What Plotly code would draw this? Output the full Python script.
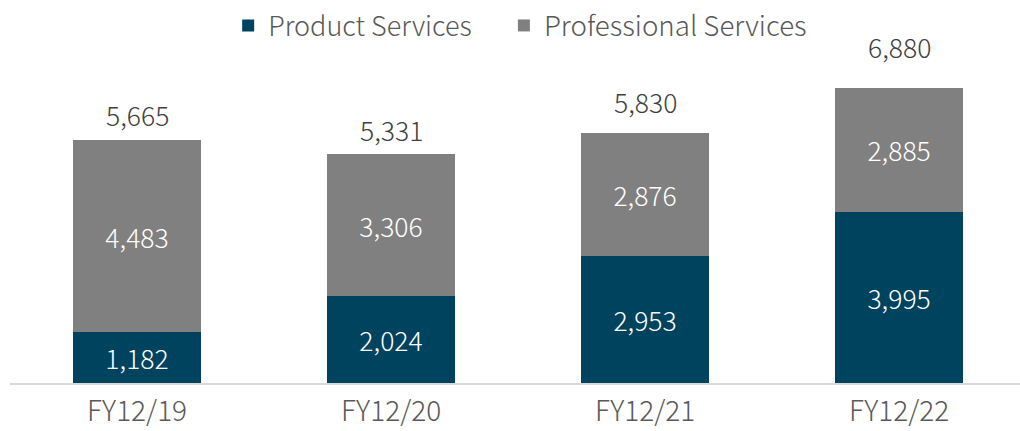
import plotly.graph_objects as go

categories = ["FY12/19", "FY12/20", "FY12/21", "FY12/22"]
product_services = [1182, 2024, 2953, 3995]
professional_services = [4483, 3306, 2876, 2885]
totals = [5665, 5331, 5830, 6880]

FONT = "Noto Sans CJK JP"
BLUE = "#00435F"
GRAY = "#808080"
TXT = dict(family=FONT, weight=300)

fig = go.Figure()
fig.add_trace(go.Bar(
    name="Product Services", x=categories, y=product_services,
    marker=dict(color=BLUE, line=dict(width=0)),
    text=[f"{v:,}" for v in product_services], textposition="inside",
    insidetextanchor="middle", textangle=0,
    textfont=dict(color="white", size=26.5, **TXT), width=0.504,
    legend="legend", showlegend=True,
))
fig.add_trace(go.Bar(
    name="Professional Services", x=categories, y=professional_services,
    marker=dict(color=GRAY, line=dict(width=0)),
    text=[f"{v:,}" for v in professional_services], textposition="inside",
    insidetextanchor="middle", textangle=0,
    textfont=dict(color="white", size=26.5, **TXT), width=0.504,
    legend="legend2", showlegend=True,
))

label_shift = [4, 3, 10, 20]
for c, t, s in zip(categories, totals, label_shift):
    fig.add_annotation(x=c, y=t, text=f"{t:,}", showarrow=False,
                       yanchor="bottom", yshift=s,
                       font=dict(size=26.5, color="#404040", **TXT))

legend_style = dict(orientation="h", xanchor="left", y=1.041, yanchor="middle",
                    itemwidth=30, bgcolor="rgba(0,0,0,0)")

fig.update_layout(
    barmode="stack",
    showlegend=True,
    width=1020, height=431,
    margin=dict(l=10, r=0, t=40, b=48, autoexpand=False),
    paper_bgcolor="white", plot_bgcolor="white",
    font=dict(color="#595959", size=26, **TXT),
    uniformtext=dict(minsize=10, mode="show"),
    legend=dict(x=0.216, font=dict(size=27, color="#595959", **TXT), **legend_style),
    legend2=dict(x=0.489, font=dict(size=27.7, color="#595959", **TXT), **legend_style),
    xaxis=dict(range=[-0.5, 3.476], showline=True, linecolor="#D9D9D9", linewidth=1.5,
               ticks="", showgrid=False, automargin=False, ticklabelstandoff=3,
               tickfont=dict(size=28, color="#595959", **TXT)),
    yaxis=dict(range=[0, 8000], visible=False, showgrid=False, automargin=False),
)

fig.write_html("out.html", config={"displayModeBar": False},
               post_script="document.body.style.margin='0';")
